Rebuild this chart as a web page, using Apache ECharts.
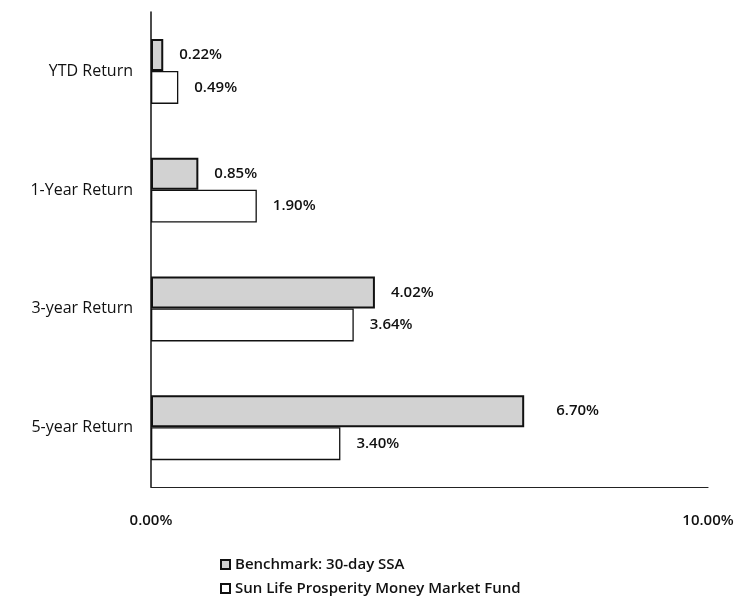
<!DOCTYPE html>
<html>
<head>
<meta charset="utf-8">
<script src="https://cdn.jsdelivr.net/npm/echarts@6/dist/echarts.min.js"></script>
<style>
  html, body { margin: 0; padding: 0; background: #fff; }
  #chart { width: 737px; height: 607px; }
</style>
</head>
<body>
<div id="chart"></div>
<script>
// categories, top to bottom
const categories = ['YTD Return', '1-Year Return', '3-year Return', '5-year Return']
// returns in percent
const benchmark = [0.22, 0.85, 4.02, 6.70]
const fund = [0.49, 1.90, 3.64, 3.40]
const seriesNames = ['Benchmark: 30-day SSA', 'Sun Life Prosperity Money Market Fund']
const axisTicks = [0, 10]

const font = 'Open Sans'
const chart = echarts.init(document.getElementById('chart'))

const labelCfg = {
  show: true,
  position: 'right',
  distance: 16,
  color: '#111',
  fontFamily: font,
  fontSize: 15,
  fontWeight: 600,
  formatter: p => p.value.toFixed(2) + '%'
}

chart.setOption({
  animation: false,
  grid: { left: 151, right: 29, top: 12, bottom: 120 },
  legend: {
    orient: 'vertical',
    left: 215,
    top: 552,
    icon: 'rect',
    itemWidth: 9,
    itemHeight: 9,
    itemGap: 9,
    textStyle: { fontFamily: font, fontSize: 15, fontWeight: 600, color: '#111' },
    data: seriesNames
  },
  xAxis: {
    type: 'value',
    min: axisTicks[0],
    max: axisTicks[1],
    interval: axisTicks[1] - axisTicks[0],
    splitLine: { show: false },
    axisTick: { show: false },
    axisLine: { show: true, lineStyle: { color: '#222', width: 1.2 } },
    axisLabel: {
      margin: 26,
      color: '#111',
      fontFamily: font,
      fontSize: 15,
      fontWeight: 600,
      formatter: v => v.toFixed(2) + '%'
    }
  },
  yAxis: {
    type: 'category',
    inverse: true,
    data: categories,
    axisTick: { show: false },
    axisLine: { show: true, lineStyle: { color: '#111', width: 1.5 } },
    axisLabel: { margin: 18, color: '#111', fontFamily: font, fontSize: 16 }
  },
  series: [
    {
      name: seriesNames[0],
      type: 'bar',
      data: benchmark.map((v, i) => i === 3
        ? { value: v, label: { distance: 32 } }
        : v),
      barWidth: 32,
      barGap: '0%',
      itemStyle: { color: '#d2d2d2', borderColor: '#111', borderWidth: 2 },
      label: labelCfg
    },
    {
      name: seriesNames[1],
      type: 'bar',
      data: fund,
      barWidth: 33,
      itemStyle: { color: '#ffffff', borderColor: '#111', borderWidth: 1.3 },
      label: labelCfg
    }
  ]
})
</script>
</body>
</html>
